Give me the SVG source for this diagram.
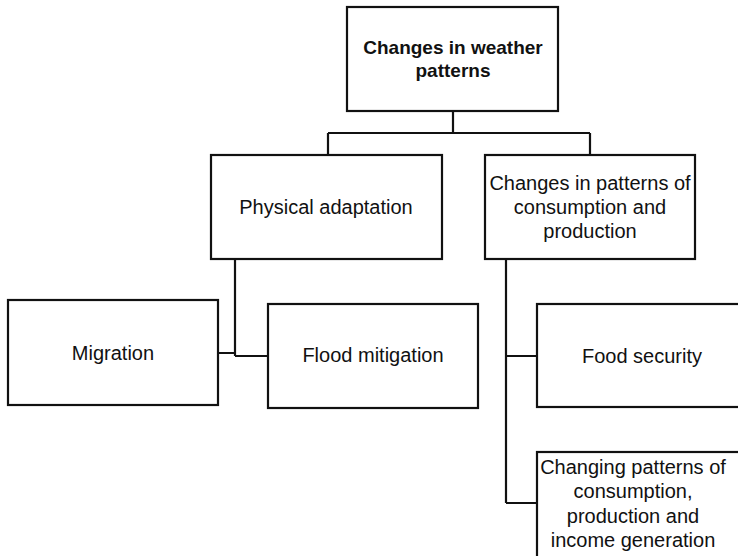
<svg xmlns="http://www.w3.org/2000/svg" width="738" height="556" viewBox="0 0 738 556">
<style>
.box{fill:#fff;stroke:#111;stroke-width:2.2}
.ln{fill:none;stroke:#111;stroke-width:2.2}
text{font-family:"Liberation Sans",Arial,sans-serif;font-size:20px;fill:#111;text-anchor:middle;dominant-baseline:central}
.b{font-weight:bold;font-size:19px}
</style>
<rect width="738" height="556" fill="#fff"/>
<g id="connectors">
<path class="ln" d="M453,111 V133 M328,133 H590 M328,133 V155 M590,133 V155"/>
<path class="ln" d="M235,259 V356 M218,353 H235 M235,356 H268"/>
<path class="ln" d="M506,259 V503 M506,356 H537 M506,503 H537"/>
</g>
<g id="n-top"><rect class="box" x="347" y="7" width="211" height="104"/>
<text class="b" x="453" y="47">Changes in weather</text><text class="b" x="453" y="70">patterns</text></g>
<g id="n-physical"><rect class="box" x="211" y="155" width="231" height="104"/>
<text x="326" y="207">Physical adaptation</text></g>
<g id="n-changes"><rect class="box" x="485" y="155" width="210" height="104"/>
<text x="590" y="183">Changes in patterns of</text><text x="590" y="207">consumption and</text><text x="590" y="231">production</text></g>
<g id="n-migration"><rect class="box" x="8" y="300" width="210" height="105"/>
<text x="113" y="353">Migration</text></g>
<g id="n-flood"><rect class="box" x="268" y="304" width="210" height="104"/>
<text x="373" y="355">Flood mitigation</text></g>
<g id="n-food"><rect class="box" x="537" y="304" width="215" height="103"/>
<text x="642" y="356">Food security</text></g>
<g id="n-changing"><rect class="box" x="537" y="452" width="215" height="120"/>
<text x="633" y="467">Changing patterns of</text><text x="633" y="491">consumption,</text><text x="633" y="516">production and</text><text x="633" y="540">income generation</text></g>
</svg>
